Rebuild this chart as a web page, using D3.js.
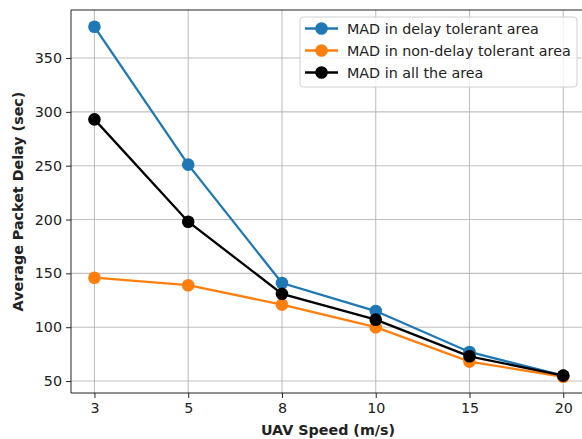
<!DOCTYPE html>
<html>
<head>
<meta charset="utf-8">
<script src="https://cdn.jsdelivr.net/npm/d3@7"></script>
<style>
  body { margin: 0; background: #fff; }
  svg { display: block; font-family: "DejaVu Sans", sans-serif; }
</style>
</head>
<body>
<svg id="chart" width="582" height="439"></svg>
<script>
const speeds = ["3", "5", "8", "10", "15", "20"];
const delayTolerant = [379, 251, 141, 115, 77, 55];
const nonDelayTolerant = [146, 139, 121, 100, 68, 54];
const allArea = [293, 198, 131, 107, 73, 55];
const yTicks = [50, 100, 150, 200, 250, 300, 350];

const series = [
    { name: "MAD in delay tolerant area", values: delayTolerant, color: "#1f77b4" },
    { name: "MAD in non-delay tolerant area", values: nonDelayTolerant, color: "#ff7f0e" },
    { name: "MAD in all the area", values: allArea, color: "#000000" }
];

const svg = d3.select("#chart");
const plotLeft = 71, plotRight = 586.7, plotTop = 10, plotBottom = 393;
const fontSize = "14.3px";

// matplotlib style: 5% margin on categorical index axis
const x = d3.scaleLinear()
    .domain([-0.25, speeds.length - 1 + 0.25])
    .range([plotLeft, plotRight]);

const y = d3.scaleLinear()
    .domain([38.9, 394.6])
    .range([plotBottom, plotTop]);

const grid = svg.append("g");
grid.selectAll("line.gx")
    .data(speeds)
    .join("line")
    .attr("x1", (d, i) => x(i)).attr("x2", (d, i) => x(i))
    .attr("y1", plotTop).attr("y2", plotBottom)
    .attr("stroke", "#b0b0b0").attr("stroke-opacity", 0.8).attr("stroke-width", 1.1);
grid.selectAll("line.gy")
    .data(yTicks)
    .join("line")
    .attr("x1", plotLeft).attr("x2", plotRight)
    .attr("y1", d => y(d)).attr("y2", d => y(d))
    .attr("stroke", "#b0b0b0").attr("stroke-opacity", 0.8).attr("stroke-width", 1.1);

// axes
const xAxis = d3.axisBottom(x)
    .tickValues(d3.range(speeds.length))
    .tickFormat(i => speeds[i])
    .tickSize(5).tickPadding(5);
const gx = svg.append("g").attr("transform", `translate(0,${plotBottom})`).call(xAxis);

const yAxis = d3.axisLeft(y)
    .tickValues(yTicks)
    .tickSize(5).tickPadding(4);
const gy = svg.append("g").attr("transform", `translate(${plotLeft},0)`).call(yAxis);

[gx, gy].forEach(g => {
    g.select(".domain").remove();
    g.selectAll(".tick line").attr("stroke", "#222").attr("stroke-width", 1);
    g.selectAll(".tick text")
        .attr("fill", "#222")
        .style("font-size", fontSize)
        .style("font-family", "DejaVu Sans, sans-serif");
});

// spines
svg.append("line").attr("x1", plotLeft).attr("x2", plotLeft).attr("y1", plotTop).attr("y2", plotBottom)
    .attr("stroke", "#222").attr("stroke-width", 1);
svg.append("line").attr("x1", plotLeft).attr("x2", plotRight).attr("y1", plotBottom).attr("y2", plotBottom)
    .attr("stroke", "#222").attr("stroke-width", 1);
svg.append("line").attr("x1", plotLeft).attr("x2", plotRight).attr("y1", plotTop).attr("y2", plotTop)
    .attr("stroke", "#222").attr("stroke-width", 1);

// lines and markers
const line = d3.line()
    .x((d, i) => x(i))
    .y(d => y(d));

series.forEach(s => {
    svg.append("path")
        .datum(s.values)
        .attr("d", line)
        .attr("fill", "none")
        .attr("stroke", s.color)
        .attr("stroke-width", 2.3);
    svg.append("g").selectAll("circle")
        .data(s.values)
        .join("circle")
        .attr("cx", (d, i) => x(i))
        .attr("cy", d => y(d))
        .attr("r", 6.3)
        .attr("fill", s.color);
});

// axis labels
svg.append("text")
    .attr("x", 328)
    .attr("y", 435)
    .attr("text-anchor", "middle")
    .style("font-size", fontSize)
    .style("font-weight", "bold")
    .attr("fill", "#222")
    .text("UAV Speed (m/s)");

svg.append("text")
    .attr("transform", `translate(23,${(plotTop + plotBottom) / 2}) rotate(-90)`)
    .attr("text-anchor", "middle")
    .style("font-size", fontSize)
    .style("font-weight", "bold")
    .attr("fill", "#222")
    .text("Average Packet Delay (sec)");

// legend
const legend = svg.append("g").attr("transform", "translate(300,17)");
legend.append("rect")
    .attr("width", 277).attr("height", 70)
    .attr("rx", 3)
    .attr("fill", "#fff").attr("fill-opacity", 0.8)
    .attr("stroke", "#d0d0d0");

series.forEach((s, i) => {
    const row = legend.append("g").attr("transform", `translate(0,${11.5 + i * 22})`);
    row.append("line")
        .attr("x1", 5).attr("x2", 38)
        .attr("stroke", s.color).attr("stroke-width", 2.3);
    row.append("circle")
        .attr("cx", 21.5).attr("r", 6.3).attr("fill", s.color);
    row.append("text")
        .attr("x", 47).attr("dy", "0.35em")
        .style("font-size", fontSize)
        .attr("fill", "#222")
        .text(s.name);
});
</script>
</body>
</html>
